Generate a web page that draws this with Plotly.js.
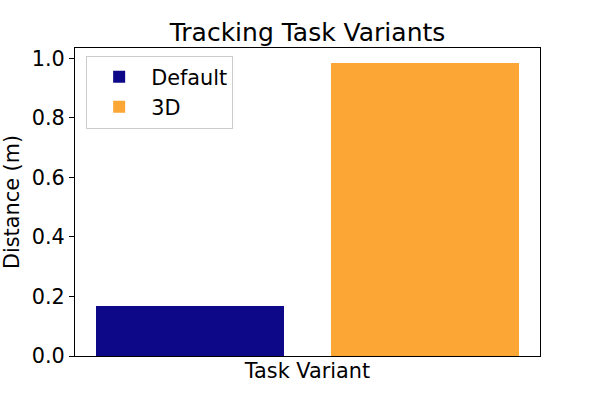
<!DOCTYPE html>
<html>
<head>
<meta charset="utf-8">
<script src="https://cdn.plot.ly/plotly-3.0.1.min.js"></script>
<style>html,body{margin:0;padding:0;background:#fff;}#chart{width:600px;height:400px;}</style>
</head>
<body>
<div id="chart"></div>
<script>
const categories = ["Default", "3D"];
const positions = [0, 1];
const distances = [0.167, 0.985];
const colors = ["#0d0887", "#fca636"];

const traces = categories.map((name, i) => ({
  type: "bar",
  name: name,
  x: [positions[i]],
  y: [distances[i]],
  width: 0.8,
  marker: {color: colors[i], line: {width: 0}},
  hoverinfo: "skip"
}));

const layout = {
  width: 600, height: 400,
  margin: {l: 75, r: 60, t: 48, b: 44},
  paper_bgcolor: "#fff", plot_bgcolor: "#fff",
  font: {family: "DejaVu Sans", size: 20.8, color: "#000"},
  title: {text: "Tracking Task Variants", font: {size: 25}, xref: "paper", x: 0.5, xanchor: "center", y: 0.92, yanchor: "middle"},
  showlegend: true,
  legend: {x: 0.024, y: 0.975, xanchor: "left", yanchor: "top", bgcolor: "rgba(255,255,255,0.8)",
           bordercolor: "#cccccc", borderwidth: 1, font: {size: 20.8}, itemwidth: 54, tracegroupgap: 0},
  xaxis: {range: [-0.49, 1.49], showticklabels: false, ticks: "", showgrid: false, zeroline: false,
          showline: true, mirror: true, linecolor: "#000", linewidth: 1,
          title: {text: "Task Variant", font: {size: 20.8}, standoff: 7}},
  yaxis: {range: [0, 1.035], dtick: 0.2, tickformat: ".1f", ticks: "outside", ticklen: 5, tickwidth: 1,
          tickcolor: "#000", showgrid: false, zeroline: false, showline: true, mirror: true,
          linecolor: "#000", linewidth: 1,
          title: {text: "Distance (m)", font: {size: 20.8}, standoff: 8}},
  bargap: 0
};

Plotly.newPlot("chart", traces, layout, {staticPlot: true, displayModeBar: false});
</script>
</body>
</html>
